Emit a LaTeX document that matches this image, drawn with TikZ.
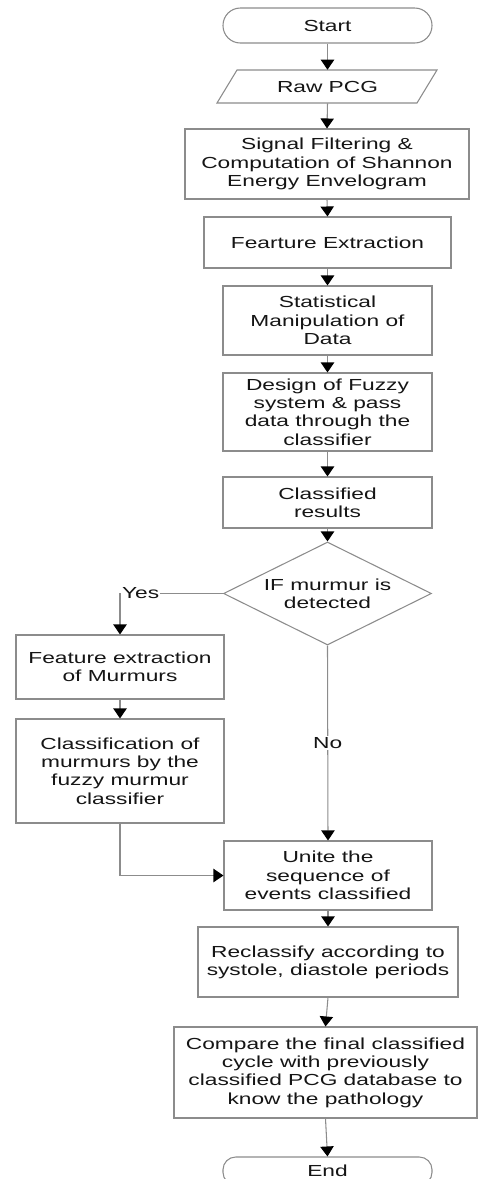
\documentclass[tikz,border=0pt]{standalone}
\usepackage{fontspec}
\setmainfont{Liberation Sans}[FakeStretch=1.42]
\usetikzlibrary{arrows.meta,shapes.geometric}
\definecolor{linegray}{HTML}{8C8C8C}
\definecolor{txt}{HTML}{151515}
\tikzset{
  box/.style={draw=linegray, line width=0.8pt, fill=white, inner sep=0pt, align=center,
    text=txt, font=\fontsize{12}{13.7}\selectfont},
  term/.style={box, rounded corners=13pt},
  plain/.style={inner sep=0pt, align=center, text=txt, font=\fontsize{12}{13.7}\selectfont},
  conn/.style={draw=linegray, line width=0.8pt,
    -{Triangle[width=10pt, length=7.5pt, color=black]}},
  lbl/.style={fill=white, inner sep=1pt, text=txt, font=\fontsize{12}{13.7}\selectfont}
}
\begin{document}
\begin{tikzpicture}[x=0.75pt, y=-0.75pt]
\useasboundingbox (0,0) rectangle (478,1179);
\clip (0,0) rectangle (478,1179);
% nodes
\node[term, minimum width=209*0.75pt, minimum height=35*0.75pt] (start) at (327.5,25.5) {Start};
\draw[linegray, line width=0.8pt, fill=white] (237,70) -- (437,70) -- (417,103) -- (217,103) -- cycle;
\node[plain, minimum width=200*0.75pt, minimum height=33*0.75pt] (raw) at (327.5,86.5) {Raw PCG};
\node[box, minimum width=284*0.75pt, minimum height=70*0.75pt] (sig) at (327,164) {Signal Filtering \&\\Computation of Shannon\\Energy Envelogram};
\node[box, minimum width=247*0.75pt, minimum height=51*0.75pt] (fe) at (327.5,242.5) {Fearture Extraction};
\node[box, minimum width=209*0.75pt, minimum height=69*0.75pt] (stat) at (327.5,320.5) {Statistical\\Manipulation of\\Data};
\node[box, minimum width=209*0.75pt, minimum height=78*0.75pt] (des) at (327.5,412) {Design of Fuzzy\\system \& pass\\data through the\\classifier};
\node[box, minimum width=209*0.75pt, minimum height=51*0.75pt] (cls) at (327.5,502.5) {Classified\\results};
\node[diamond, draw=linegray, line width=0.8pt, inner sep=0pt, minimum width=208*0.75pt, minimum height=103*0.75pt] (dia) at (327.5,593.5) {};
\node[plain] (diatext) at (327.5,593.5) {IF murmur is\\detected};
\node[box, minimum width=208*0.75pt, minimum height=64*0.75pt] (fem) at (120,667) {Feature extraction\\of Murmurs};
\node[box, minimum width=208*0.75pt, minimum height=104*0.75pt] (cm) at (120,771) {Classification of\\murmurs by the\\fuzzy murmur\\classifier};
\node[box, minimum width=208*0.75pt, minimum height=69*0.75pt] (uni) at (328,875.5) {Unite the\\sequence of\\events classified};
\node[box, minimum width=260*0.75pt, minimum height=70*0.75pt] (rec) at (328,962) {Reclassify according to\\systole, diastole periods};
\node[box, minimum width=303*0.75pt, minimum height=91*0.75pt] (cmp) at (325.5,1072.5) {Compare the final classified\\cycle with previously\\classified PCG database to\\know the pathology};
\node[box, rounded corners=9.5pt, minimum width=209*0.75pt, minimum height=28*0.75pt] (end) at (327.5,1171) {End};
% connectors
\draw[conn] (start.south) -- (raw.north);
\draw[conn] (raw.south) -- (sig.north);
\draw[conn] (sig.south) -- (fe.north);
\draw[conn] (fe.south) -- (stat.north);
\draw[conn] (stat.south) -- (des.north);
\draw[conn] (des.south) -- (cls.north);
\draw[conn] (cls.south) -- (dia.north);
\draw[conn] (dia.west) -| node[lbl, pos=0.4] {Yes} (fem.north);
\draw[conn] (fem.south) -- (cm.north);
\draw[conn] (dia.south) -- node[lbl] {No} (uni.north);
\draw[conn] (cm.south) |- (uni.west);
\draw[conn] (uni.south) -- (rec.north);
\draw[conn] (rec.south) -- (cmp.north);
\draw[conn] (cmp.south) -- (end.north);
\end{tikzpicture}
\end{document}
